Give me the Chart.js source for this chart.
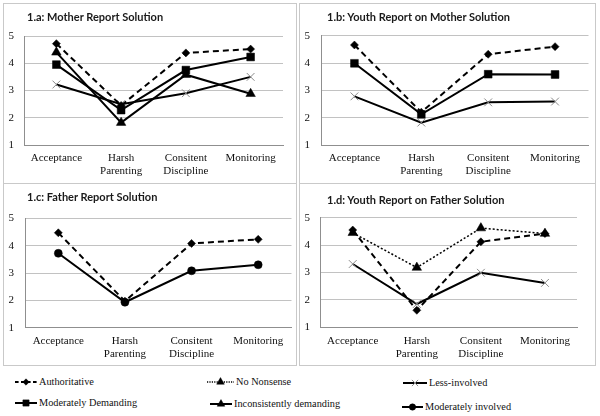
<!DOCTYPE html>
<html><head><meta charset="utf-8">
<script src="https://cdn.jsdelivr.net/npm/chart.js@4/dist/chart.umd.min.js"></script>
<style>
html,body{margin:0;padding:0;background:#fff;}
body{width:600px;height:416px;position:relative;overflow:hidden;font-family:"Liberation Serif","Times New Roman","DejaVu Serif",serif;}
.panel{position:absolute;border:1px solid #c9c9c9;box-sizing:border-box;}
.panel canvas{position:absolute;left:0;top:0;}
.ttl{position:absolute;font-family:Lato,"Open Sans",sans-serif;font-weight:bold;font-size:11px;line-height:14px;color:#1a1a1a;white-space:nowrap;}
.leg{position:absolute;height:14px;white-space:nowrap;}
.leg canvas{position:absolute;left:0;top:0;}
.leg span{position:absolute;top:0;line-height:14px;font-size:10.3px;color:#111;font-family:"Liberation Serif","Times New Roman","DejaVu Serif",serif;}
</style></head>
<body>
<div class="panel" id="pA" style="left:3px;top:3px;width:294px;height:181px"><canvas id="cA" width="292" height="179"></canvas></div>
<div class="panel" id="pB" style="left:299px;top:3px;width:297px;height:181px"><canvas id="cB" width="295" height="179"></canvas></div>
<div class="panel" id="pC" style="left:3px;top:183px;width:294px;height:183px"><canvas id="cC" width="292" height="181"></canvas></div>
<div class="panel" id="pD" style="left:299px;top:183px;width:297px;height:183px"><canvas id="cD" width="295" height="181"></canvas></div>
<div class="ttl" style="left:27px;top:10px">1.a: Mother Report Solution</div>
<div class="ttl" style="left:327px;top:10px">1.b: Youth Report on Mother Solution</div>
<div class="ttl" style="left:27px;top:190px">1.c: Father Report Solution</div>
<div class="ttl" style="left:327px;top:193px">1.d: Youth Report on Father Solution</div>
<div id="legend"></div>
<script>
// ---- data ----
const categories = ['Acceptance', ['Harsh', 'Parenting'], ['Consitent', 'Discipline'], 'Monitoring'];
const seriesNames = ['Authoritative', 'No Nonsense', 'Less-involved', 'Moderately Demanding', 'Inconsistently demanding', 'Moderately involved'];

// 1.a Mother Report
const motherAuthoritative = [4.72, 2.45, 4.38, 4.52];
const motherModDemanding  = [3.95, 2.28, 3.75, 4.23];
const motherInconsistent  = [4.40, 1.82, 3.58, 2.88];
const motherLessInvolved  = [3.22, 2.50, 2.90, 3.50];
// 1.b Youth Report on Mother
const youthMAuthoritative = [4.66, 2.20, 4.32, 4.60];
const youthMModDemanding  = [3.99, 2.12, 3.59, 3.58];
const youthMLessInvolved  = [2.78, 1.82, 2.56, 2.59];
// 1.c Father Report
const fatherAuthoritative = [4.47, 1.97, 4.08, 4.23];
const fatherModInvolved   = [3.72, 1.93, 3.08, 3.30];
// 1.d Youth Report on Father
const youthFAuthoritative = [4.55, 1.62, 4.12, 4.42];
const youthFNoNonsense    = [4.45, 3.18, 4.62, 4.42];
const youthFLessInvolved  = [3.31, 1.85, 2.99, 2.62];

const yMin = 1, yMax = 5, yStep = 1;

// ---- styles ----
const styles = {
  'Authoritative':            {borderDash:[6,4], borderWidth:2,   pointStyle:'rectRot',  pointRadius:4,   pb:'#000', pbw:0.5},
  'No Nonsense':              {borderDash:[2,2], borderWidth:1.5, pointStyle:'triangle', pointRadius:5.5, pb:'#000', pbw:0.5},
  'Less-involved':            {borderDash:[],    borderWidth:2,   pointStyle:'crossRot', pointRadius:5.5, pb:'#8a8a8a', pbw:1},
  'Moderately Demanding':     {borderDash:[],    borderWidth:2,   pointStyle:'rect',     pointRadius:5.5, pb:'#000', pbw:0.5},
  'Inconsistently demanding': {borderDash:[],    borderWidth:2,   pointStyle:'triangle', pointRadius:5.5, pb:'#000', pbw:0.5},
  'Moderately involved':      {borderDash:[],    borderWidth:2,   pointStyle:'circle',   pointRadius:4,   pb:'#000', pbw:0.5}
};

function ds(name, data) {
  const s = styles[name];
  return {
    label: name, data,
    borderColor:'#000', backgroundColor:'#000',
    borderWidth:s.borderWidth, borderDash:s.borderDash,
    pointStyle:s.pointStyle, pointRadius:s.pointRadius,
    pointBackgroundColor:'#000', pointBorderColor:s.pb, pointBorderWidth:s.pbw,
    tension:0, fill:false
  };
}

const tickFont = {family:'"Liberation Serif", "Times New Roman", "DejaVu Serif", serif', size:11, lineHeight:1.18};

function makeChart(id, datasets, g) {
  new Chart(document.getElementById(id), {
    type:'line',
    data:{labels:categories, datasets},
    options:{
      responsive:false, animation:false, devicePixelRatio:1,
      layout:{padding:{top:g.top, right:g.right, left:0, bottom:0}},
      plugins:{legend:{display:false}, tooltip:{enabled:false}, title:{display:false}},
      scales:{
        x:{
          offset:true,
          grid:{display:false, drawTicks:false},
          border:{display:true, color:'#8f8f8f', width:1},
          ticks:{color:'#111', font:tickFont, padding:7, maxRotation:0, autoSkip:false},
          afterFit:s=>{s.height = g.xh;}
        },
        y:{
          min:yMin, max:yMax,
          ticks:{stepSize:yStep, color:'#111', font:tickFont, padding:g.left-10},
          grid:{color:'#c2c2c2', drawTicks:false, lineWidth:1},
          border:{display:true, color:'#8f8f8f', width:1},
          afterFit:s=>{s.width = g.left;}
        }
      }
    }
  });
}

makeChart('cA', [
  ds('Authoritative', motherAuthoritative),
  ds('Moderately Demanding', motherModDemanding),
  ds('Inconsistently demanding', motherInconsistent),
  ds('Less-involved', motherLessInvolved)
], {top:32, right:13, left:20, xh:38});

makeChart('cB', [
  ds('Authoritative', youthMAuthoritative),
  ds('Moderately Demanding', youthMModDemanding),
  ds('Less-involved', youthMLessInvolved)
], {top:31.7, right:2, left:21, xh:38});

makeChart('cC', [
  ds('Authoritative', fatherAuthoritative),
  ds('Moderately involved', fatherModInvolved)
], {top:34.3, right:3, left:21, xh:37.3});

makeChart('cD', [
  ds('Authoritative', youthFAuthoritative),
  ds('No Nonsense', youthFNoNonsense),
  ds('Less-involved', youthFLessInvolved)
], {top:33.7, right:18, left:20.7, xh:37.7});

// ---- legend ----
const legendItems = [
  {name:'Authoritative',            x:14,  y:375, w:24},
  {name:'No Nonsense',              x:206, y:375, w:29},
  {name:'Less-involved',            x:402, y:376, w:26},
  {name:'Moderately Demanding',     x:14,  y:396, w:24},
  {name:'Inconsistently demanding', x:209, y:397, w:24},
  {name:'Moderately involved',      x:401, y:400, w:23}
];

function drawMarker(ctx, style, r, x, y, stroke, sw) {
  ctx.save();
  ctx.fillStyle = '#000'; ctx.strokeStyle = stroke; ctx.lineWidth = sw;
  ctx.beginPath();
  if (style === 'rectRot') {
    ctx.moveTo(x, y - r); ctx.lineTo(x + r, y); ctx.lineTo(x, y + r); ctx.lineTo(x - r, y); ctx.closePath(); ctx.fill(); ctx.stroke();
  } else if (style === 'rect') {
    const s = r * Math.SQRT1_2;
    ctx.rect(x - s, y - s, 2 * s, 2 * s); ctx.fill(); ctx.stroke();
  } else if (style === 'triangle') {
    ctx.moveTo(x, y - r); ctx.lineTo(x + r * 0.866, y + r * 0.5); ctx.lineTo(x - r * 0.866, y + r * 0.5); ctx.closePath(); ctx.fill(); ctx.stroke();
  } else if (style === 'circle') {
    ctx.arc(x, y, r, 0, Math.PI * 2); ctx.fill(); ctx.stroke();
  } else if (style === 'crossRot') {
    const d = r * Math.SQRT1_2;
    ctx.moveTo(x - d, y - d); ctx.lineTo(x + d, y + d); ctx.moveTo(x + d, y - d); ctx.lineTo(x - d, y + d); ctx.stroke();
  }
  ctx.restore();
}

const legendEl = document.getElementById('legend');
legendItems.forEach(it => {
  const s = styles[it.name];
  const div = document.createElement('div');
  div.className = 'leg';
  div.style.left = it.x + 'px'; div.style.top = it.y + 'px';
  const cv = document.createElement('canvas');
  cv.width = it.w; cv.height = 14;
  div.appendChild(cv);
  const ctx = cv.getContext('2d');
  ctx.strokeStyle = '#000'; ctx.lineWidth = s.borderWidth;
  ctx.setLineDash(s.borderDash.length ? [s.borderDash[0] * 0.6, s.borderDash[1] * 0.6] : []);
  ctx.beginPath(); ctx.moveTo(1, 7); ctx.lineTo(it.w - 1, 7); ctx.stroke();
  ctx.setLineDash([]);
  drawMarker(ctx, s.pointStyle, s.pointRadius * 0.8, it.w / 2, 7, s.pb, s.pbw);
  const sp = document.createElement('span');
  sp.textContent = it.name;
  sp.style.left = (it.w + 1) + 'px';
  div.appendChild(sp);
  legendEl.appendChild(div);
});
</script>
</body></html>
